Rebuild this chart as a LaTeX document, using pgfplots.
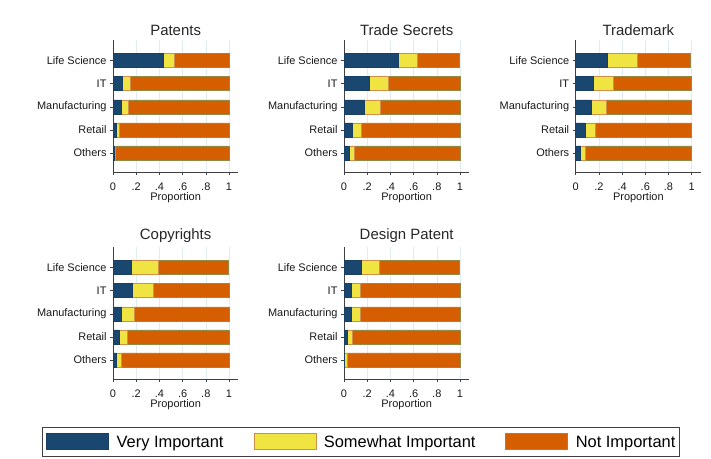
\documentclass[border=0pt]{standalone}
\usepackage{fontspec}
\setmainfont{Liberation Sans}
\usepackage{pgfplots}
\usepackage{pgfplotstable}
\pgfplotsset{compat=1.18}

\definecolor{vimp}{HTML}{1A476F}
\definecolor{vimpd}{HTML}{1A3F62}
\definecolor{simp}{HTML}{F0E442}
\definecolor{simpd}{HTML}{D0904A}
\definecolor{nimp}{HTML}{D55E00}
\definecolor{nimpd}{HTML}{948A45}
\definecolor{gridc}{HTML}{E1ECF0}

\pgfplotstableread{
y V S N
5 0.43 0.096 0.474
4 0.08 0.07 0.85
3 0.072 0.058 0.87
2 0.032 0.018 0.95
1 0.01 0.01 0.98
}\patents
\pgfplotstableread{
y V S N
5 0.464 0.166 0.36
4 0.215 0.165 0.62
3 0.172 0.138 0.69
2 0.072 0.08 0.848
1 0.043 0.049 0.908
}\tradesecrets
\pgfplotstableread{
y V S N
5 0.276 0.254 0.46
4 0.152 0.173 0.675
3 0.132 0.128 0.74
2 0.08 0.092 0.828
1 0.04 0.046 0.914
}\trademark
\pgfplotstableread{
y V S N
5 0.158 0.236 0.596
4 0.17 0.175 0.655
3 0.075 0.112 0.813
2 0.052 0.068 0.88
1 0.032 0.037 0.931
}\copyrights
\pgfplotstableread{
y V S N
5 0.146 0.154 0.694
4 0.063 0.08 0.857
3 0.063 0.08 0.857
2 0.029 0.04 0.931
1 0.006 0.02 0.974
}\designpatent

\pgfplotsset{
  panel/.style={
    xbar stacked, scale only axis,
    width=125.3bp, height=132bp,
    xmin=0, xmax=1.08, ymin=0.17, ymax=5.9,
    ytick={1,2,3,4,5},
    yticklabels={Others,Retail,Manufacturing,IT,Life Science},
    xtick={0,0.2,0.4,0.6,0.8,1},
    xticklabels={0,.2,.4,.6,.8,1},
    axis lines*=left,
    axis line style={black!75, line width=0.6bp},
    tick style={black!75, line width=0.6bp},
    tick align=outside, major tick length=3bp,
    xmajorgrids, grid style={gridc, line width=0.6bp},
    bar width=14bp,
    tick label style={font=\fontsize{11}{12}\selectfont, text=black!90},
    xticklabel style={yshift=-4bp},
    xlabel=Proportion,
    xlabel style={font=\fontsize{11}{12}\selectfont, text=black!90, yshift=5bp},
    title style={font=\fontsize{15}{17}\selectfont, text=black!85, yshift=-5bp},
    anchor=south west,
    clip=false,
  },
  vs/.style={fill=vimp, draw=vimpd, line width=0.6bp},
  ss/.style={fill=simp, draw=simpd, line width=0.6bp},
  ns/.style={fill=nimp, draw=nimpd, line width=0.6bp},
}

\begin{document}
\begin{tikzpicture}
\useasboundingbox (0,0) rectangle (711bp,459bp);

\begin{axis}[panel, at={(113bp,287bp)}, title={Patents}]
\addplot[vs] table[x=V,y=y] {\patents};
\addplot[ss] table[x=S,y=y] {\patents};
\addplot[ns] table[x=N,y=y] {\patents};
\end{axis}

\begin{axis}[panel, at={(344bp,287bp)}, title={Trade Secrets}]
\addplot[vs] table[x=V,y=y] {\tradesecrets};
\addplot[ss] table[x=S,y=y] {\tradesecrets};
\addplot[ns] table[x=N,y=y] {\tradesecrets};
\end{axis}

\begin{axis}[panel, at={(575.7bp,287bp)}, title={Trademark}]
\addplot[vs] table[x=V,y=y] {\trademark};
\addplot[ss] table[x=S,y=y] {\trademark};
\addplot[ns] table[x=N,y=y] {\trademark};
\end{axis}

\begin{axis}[panel, at={(113bp,80bp)}, title={Copyrights}]
\addplot[vs] table[x=V,y=y] {\copyrights};
\addplot[ss] table[x=S,y=y] {\copyrights};
\addplot[ns] table[x=N,y=y] {\copyrights};
\end{axis}

\begin{axis}[panel, at={(344bp,80bp)}, title={Design Patent},
  legend columns=3,
  legend image code/.code={%
    \draw[#1] (0bp,-8bp) rectangle (62bp,8bp);
    \path[draw=none, fill=none] (0bp,0bp) rectangle (70bp,0bp);},
  legend style={
    at={(-2.410,-0.3636)}, anchor=north west,
    draw=black!75, line width=0.6bp, fill=white,
    font=\fontsize{16.5}{19}\selectfont,
    inner xsep=4bp, inner ysep=6bp,
    nodes={inner sep=0bp, text depth=0bp},
    /tikz/every even column/.append style={column sep=30bp},
  },
  legend cell align=left,
]
\addplot[vs] table[x=V,y=y] {\designpatent};
\addplot[ss] table[x=S,y=y] {\designpatent};
\addplot[ns] table[x=N,y=y] {\designpatent};
\legend{Very Important, Somewhat Important, Not Important\hspace{19bp}}
\end{axis}
\end{tikzpicture}
\end{document}
